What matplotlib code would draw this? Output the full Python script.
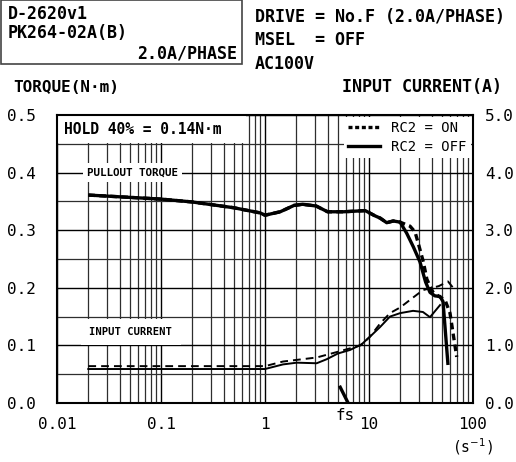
import matplotlib
matplotlib.use("Agg")
import matplotlib.pyplot as plt
from matplotlib.ticker import FixedLocator, FixedFormatter, NullFormatter
from matplotlib.lines import Line2D
from matplotlib.patches import Rectangle

plt.rcParams['font.family'] = ['DejaVu Sans Mono', 'DejaVu Sans']

# ---------------- data ----------------
x_ticks = [0.01, 0.1, 1, 10, 100]
x_tick_labels = ["0.01", "0.1", "1", "10", "100"]
torque_ticks = [0.0, 0.1, 0.2, 0.3, 0.4, 0.5]
torque_tick_labels = ["0.0", "0.1", "0.2", "0.3", "0.4", "0.5"]
current_ticks = [0.0, 1.0, 2.0, 3.0, 4.0, 5.0]
current_tick_labels = ["0.0", "1.0", "2.0", "3.0", "4.0", "5.0"]

# Pullout torque, RC2 = OFF (solid)
torque_off_f = [0.02, 0.05, 0.1, 0.2, 0.5, 0.9, 1.0, 1.4, 1.9, 2.3, 3.1, 4.0,
                5.7, 9.2, 11.4, 12.8, 14.8, 17.1, 19.9, 23.0, 26.7, 30.9,
                35.0, 38.6, 43.0, 48.2, 51.5, 57.5]
torque_off = [0.361, 0.357, 0.354, 0.349, 0.339, 0.330, 0.326, 0.332, 0.343,
              0.345, 0.342, 0.332, 0.332, 0.334, 0.325, 0.321, 0.313, 0.316,
              0.314, 0.295, 0.271, 0.245, 0.210, 0.192, 0.186, 0.185, 0.176,
              0.066]

# Pullout torque, RC2 = ON (dashed)
torque_on_f = [0.02, 0.05, 0.1, 0.2, 0.5, 0.9, 1.0, 1.4, 1.9, 2.3, 3.1, 4.0,
               5.7, 9.2, 11.4, 12.8, 14.8, 17.1, 19.9, 24.8, 27.7, 29.8, 33.3,
               36.0, 41.0, 47.0, 53.8, 60.1, 69.7]
torque_on = [0.361, 0.357, 0.354, 0.349, 0.339, 0.330, 0.326, 0.332, 0.343,
             0.345, 0.342, 0.332, 0.332, 0.334, 0.325, 0.321, 0.313, 0.316,
             0.314, 0.307, 0.297, 0.277, 0.245, 0.215, 0.193, 0.185, 0.179,
             0.156, 0.080]

# Input current, RC2 = OFF (thin solid)
current_off_f = [0.02, 1.0, 1.49, 2.02, 3.14, 3.92, 5.03, 6.56, 8.5, 10.2,
                 12.8, 15.9, 19.9, 26.5, 33.0, 38.6, 48.2]
current_off = [0.59, 0.59, 0.67, 0.70, 0.69, 0.76, 0.86, 0.92, 1.02, 1.15,
               1.32, 1.50, 1.56, 1.60, 1.58, 1.49, 1.70]

# Input current, RC2 = ON (thin dashed)
current_on_f = [0.02, 1.0, 1.49, 3.14, 5.03, 8.3, 10.2, 12.8, 15.9, 20.0,
                26.5, 33.0, 38.6, 47.0, 57.5, 67.1]
current_on = [0.64, 0.64, 0.72, 0.79, 0.89, 1.00, 1.15, 1.38, 1.56, 1.66,
              1.83, 1.96, 1.99, 2.03, 2.11, 1.96]

# fs marker
fs_f = [5.2, 6.3]
fs_torque = [0.030, 0.0]

# ---------------- figure ----------------
fig = plt.figure(figsize=(5.16, 4.62), dpi=100)
ax = fig.add_axes([57 / 516, 1 - 403 / 462, 416 / 516, 288 / 462])
ax.set_xscale('log')
ax.set_xlim(0.01, 100)
ax.set_ylim(0, 0.5)

ax.xaxis.set_major_locator(FixedLocator(x_ticks))
ax.xaxis.set_major_formatter(FixedFormatter(x_tick_labels))
minor = [m * d for d in [0.01, 0.1, 1, 10] for m in range(2, 10)]
ax.xaxis.set_minor_locator(FixedLocator(minor))
ax.xaxis.set_minor_formatter(NullFormatter())
ax.yaxis.set_major_locator(FixedLocator(torque_ticks))
ax.yaxis.set_major_formatter(FixedFormatter(torque_tick_labels))
ax.yaxis.set_minor_locator(FixedLocator([0.05, 0.15, 0.25, 0.35, 0.45]))
ax.tick_params(which='both', length=0, labelsize=11.5)
ax.tick_params(axis='x', pad=10)
ax.tick_params(axis='y', pad=15)

ax.grid(True, which='major', color='black', lw=1.0, zorder=0)
ax.grid(True, which='minor', color='#2e2e2e', lw=0.9, zorder=0)
ax.set_axisbelow(True)
for s in ax.spines.values():
    s.set_linewidth(1.5)
    s.set_color('black')

# torque lines
ax.plot(torque_off_f, torque_off, color='black', lw=2.4, solid_capstyle='butt', zorder=4)
ax.plot(torque_on_f, torque_on, color='black', lw=2.4, ls=(0, (2.0, 1.3)), zorder=4)
ax.plot(fs_f, fs_torque, color='black', lw=2.4, solid_capstyle='butt', zorder=4, clip_on=False)

# white band behind the HOLD label (covers grid in the top-left cell row)
ax.add_patch(Rectangle((0.0, 0.903), 0.455, 0.097, transform=ax.transAxes,
                       facecolor='white', edgecolor='none', zorder=1))
ax.text(0.0118, 0.474, "HOLD 40% = 0.14N·m", fontsize=10.5, fontweight='bold',
        va='center', ha='left', zorder=5)
ax.text(0.0195, 0.40, "PULLOUT TORQUE", fontsize=7.8, fontweight='bold',
        va='center', ha='left', zorder=5,
        bbox=dict(facecolor='white', edgecolor='none', pad=3))
ax.text(0.0205, 0.123, "INPUT CURRENT", fontsize=7.6, fontweight='bold',
        va='center', ha='left', zorder=5,
        bbox=dict(facecolor='white', edgecolor='none', pad=6))

handles = [Line2D([], [], color='black', lw=2.4, ls=(0, (1.2, 0.8))),
           Line2D([], [], color='black', lw=2.4)]
leg = ax.legend(handles, ["RC2 = ON", "RC2 = OFF"], loc='upper right',
                fontsize=10, frameon=True, fancybox=False, framealpha=1,
                edgecolor='none', facecolor='white', borderaxespad=0.15,
                handlelength=2.3, handletextpad=0.8, labelspacing=0.35,
                borderpad=0.3)
leg.set_zorder(6)

# current on twin axis
ax2 = ax.twinx()
ax2.set_ylim(0, 5)
ax2.yaxis.set_major_locator(FixedLocator(current_ticks))
ax2.yaxis.set_major_formatter(FixedFormatter(current_tick_labels))
ax2.tick_params(length=0, labelsize=11.5, pad=8.5)
for s in ax2.spines.values():
    s.set_visible(False)
ax2.plot(current_off_f, current_off, color='black', lw=1.4, zorder=3)
ax2.plot(current_on_f, current_on, color='black', lw=1.4, ls=(0, (4.0, 2.6)), zorder=3)

# fs / unit labels
fig.text(345 / 516, 1 - 416 / 462, "fs", fontsize=11.5, ha='center', va='center')
fig.text(473 / 516, 1 - 447 / 462, "(s$^{-1}$)", fontsize=10.5, ha='center', va='center')

# header
fig.patches.append(Rectangle((1 / 516, 1 - 64 / 462), 241 / 516, 64 / 462,
                             transform=fig.transFigure, fill=False,
                             edgecolor='#444444', lw=1.2))
fig.text(8 / 516, 1 - 14 / 462, "D-2620v1", fontsize=12, fontweight='bold', va='center')
fig.text(8 / 516, 1 - 33 / 462, "PK264-02A(B)", fontsize=12, fontweight='bold', va='center')
fig.text(237 / 516, 1 - 54 / 462, "2.0A/PHASE", fontsize=12, fontweight='bold',
         va='center', ha='right')
fig.text(255 / 516, 1 - 17 / 462, "DRIVE = No.F (2.0A/PHASE)", fontsize=12,
         fontweight='bold', va='center')
fig.text(255 / 516, 1 - 40 / 462, "MSEL  = OFF", fontsize=12, fontweight='bold', va='center')
fig.text(255 / 516, 1 - 64 / 462, "AC100V", fontsize=12, fontweight='bold', va='center')
fig.text(13 / 516, 1 - 87 / 462, "TORQUE(N·m)", fontsize=11.5, fontweight='bold', va='center')
fig.text(502 / 516, 1 - 87 / 462, "INPUT CURRENT(A)", fontsize=12, fontweight='bold',
         va='center', ha='right')

fig.savefig("out.png", dpi=100)
